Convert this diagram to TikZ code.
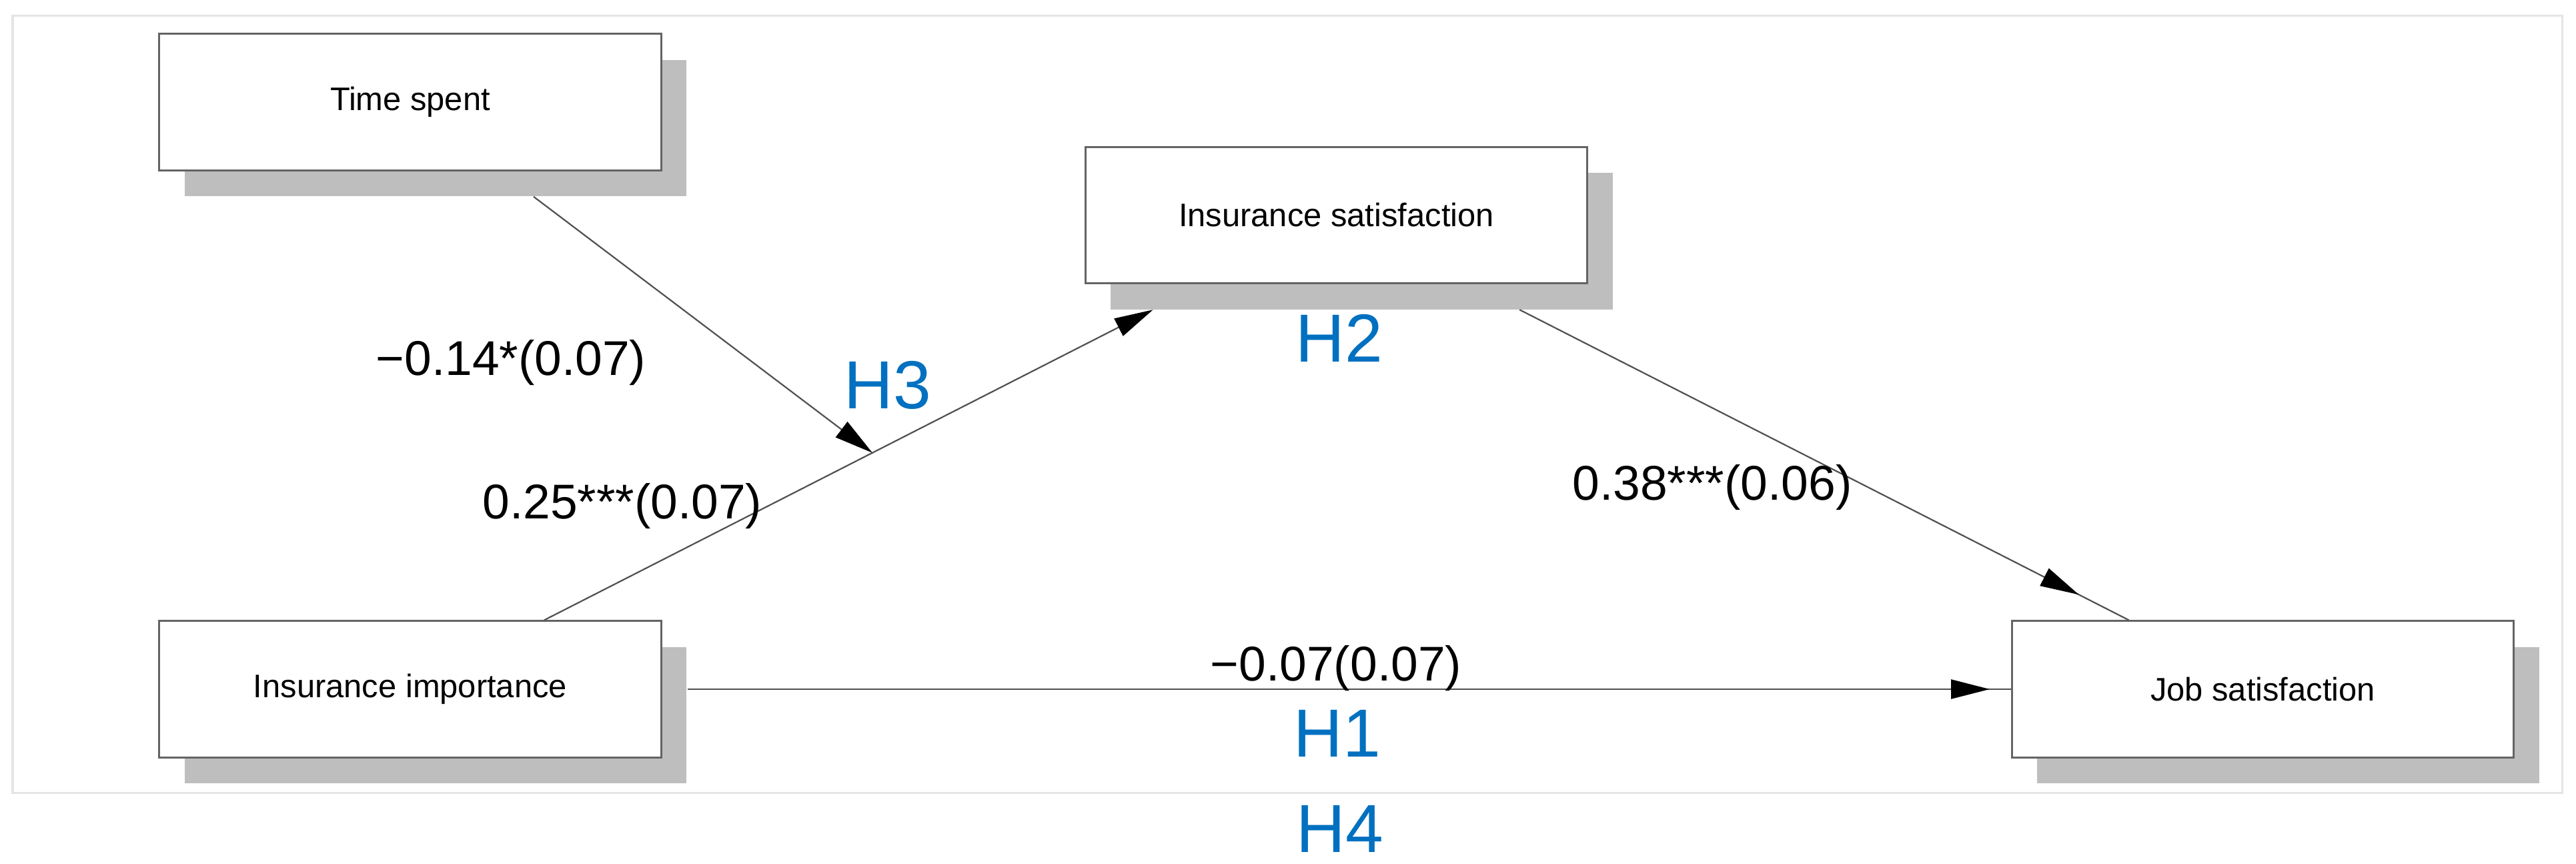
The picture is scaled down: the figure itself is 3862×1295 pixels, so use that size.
\documentclass[tikz,border=0pt]{standalone}
\usepackage{fontspec}
\setmainfont{Liberation Sans}
\usetikzlibrary{arrows.meta,calc,decorations.markings}
\definecolor{hblue}{RGB}{0,112,192}
\definecolor{shgray}{RGB}{190,190,190}
\definecolor{bordergray}{RGB}{100,100,100}
\definecolor{linegray}{RGB}{80,80,80}
\definecolor{framegray}{RGB}{228,228,228}
\begin{document}
\begin{tikzpicture}[x=0.01cm,y=-0.01cm,
  box/.style={draw=bordergray, line width=0.03cm, fill=white, minimum width=7.52cm, minimum height=2.04cm, inner sep=0pt, font=\fontsize{13.9}{16}\selectfont},
  shadowbox/.style={fill=shgray, minimum width=7.52cm, minimum height=2.04cm, inner sep=0pt},
  conn/.style={draw=linegray, line width=0.022cm},
  tipend/.style={-{Triangle[length=0.58cm,width=0.29cm,color=black]}},
  tipat/.style={postaction={decorate}, decoration={markings, mark=at position #1 with {\arrow{Triangle[length=0.58cm,width=0.29cm,color=black]}}}},
  coef/.style={font=\fontsize{20.8}{24}\selectfont, anchor=base, inner sep=0pt},
  hyp/.style={font=\fontsize{29}{34}\selectfont, text=hblue, anchor=base, inner sep=0pt}]

\useasboundingbox (0,0) rectangle (3862,1295);
\fill[white] (0,0) rectangle (3862,1295);
\draw[framegray, line width=0.03cm] (19,24) rectangle (3841,1189);

% shadows
\node[shadowbox] (tssh) at (653,192) {};
\node[shadowbox] (issh) at (2041.5,361.5) {};
\node[shadowbox] (iish) at (653,1072) {};
\node[shadowbox] (jssh) at (3430.5,1072) {};

% boxes
\node[box] (ts) at (615,153) {Time spent};
\node[box] (is) at (2003.5,322.5) {Insurance satisfaction};
\node[box] (ii) at (615,1033) {Insurance importance};
\node[box] (js) at (3392.5,1033) {Job satisfaction};

% connector end points
\coordinate (tsout) at ($(tssh.south west)!0.695!(tssh.south east)$);
\coordinate (iiout) at ($(ii.north west)!0.766!(ii.north east)$);
\coordinate (isin) at ($(issh.south west)!0.085!(issh.south east)$);
\coordinate (isout) at ($(issh.south west)!0.814!(issh.south east)$);
\coordinate (jsin) at ($(js.north west)!0.234!(js.north east)$);
\coordinate (mod) at ($(iiout)!0.539!(isin)$);

% connectors
\draw[conn, tipend] (iiout) -- (isin);
\draw[conn, tipend] (tsout) -- (mod);
\draw[conn, tipat=0.918] (isout) -- (jsin);
\draw[conn, tipat=0.984] ([xshift=0.38cm]ii.east) -- (js.west);

% labels
\node[coef] (c1) at (766,563) {−0.14*(0.07)};
\node[coef] (c2) at (933,778) {0.25***(0.07)};
\node[coef] (c3) at (2567,750) {0.38***(0.06)};
\node[coef] (c4) at (2003,1021) {−0.07(0.07)};
\node[hyp] (h3) at (1331,613) {H3};
\node[hyp] (h2) at (2008,543) {H2};
\node[hyp] (h1) at (2005,1135) {H1};
\node[hyp] (h4) at (2009,1278) {H4};
\end{tikzpicture}
\end{document}
